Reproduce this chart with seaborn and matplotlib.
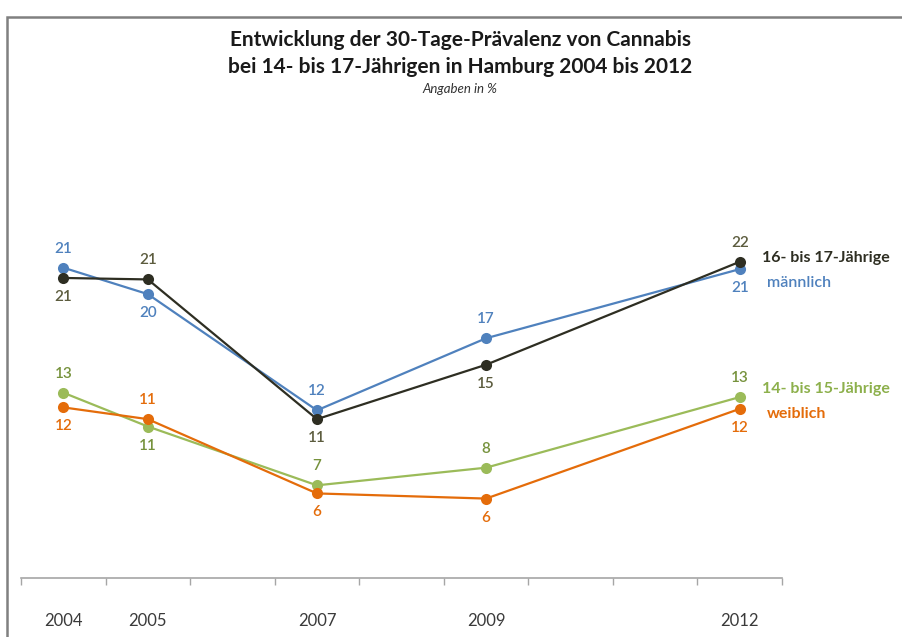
import matplotlib
matplotlib.use("Agg")
import matplotlib.pyplot as plt
from matplotlib.patches import Rectangle
import numpy as np
import pandas as pd
import seaborn as sns

# Survey years shown on the time axis
years = [2004, 2005, 2007, 2009, 2012]

# 30-day prevalence of cannabis use (%)
maennlich = [21.4, 19.6, 11.7, 16.6, 21.3]
age_16_17 = [20.7, 20.6, 11.1, 14.8, 21.8]
age_14_15 = [12.9, 10.6, 6.6, 7.8, 12.6]
weiblich = [11.9, 11.1, 6.05, 5.7, 11.8]

series_names = ["männlich", "16- bis 17-Jährige", "14- bis 15-Jährige", "weiblich"]
series_values = [maennlich, age_16_17, age_14_15, weiblich]
line_colors = ["#4F81BD", "#2E2E22", "#9BBB59", "#E46C0A"]
label_colors = ["#4F81BD", "#5C5C3E", "#76923C", "#E46C0A"]
# label placement per point: +1 above the marker, -1 below
label_side = [
    [1, -1, 1, 1, -1],
    [-1, 1, -1, -1, 1],
    [1, -1, 1, 1, 1],
    [-1, 1, -1, -1, -1],
]

df = pd.DataFrame(
    [(y, v, name) for name, vals in zip(series_names, series_values) for y, v in zip(years, vals)],
    columns=["Jahr", "Wert", "Gruppe"],
)

sns.set_theme(style="white")
plt.rcParams["font.family"] = ["Lato", "DejaVu Sans"]

W, H = 902, 637
fig = plt.figure(figsize=(W / 100, H / 100), dpi=100)
fig.patch.set_facecolor("white")

# frame around the chart area
fig.patches.append(Rectangle((7 / W, -0.05), 1.1, (H - 17) / H + 0.05,
                             transform=fig.transFigure, fill=False,
                             edgecolor="#808080", linewidth=1.8, zorder=0))

ax = fig.add_axes([21 / W, (H - 578) / H, (782 - 21) / W, (578 - 200) / H])
sns.lineplot(data=df, x="Jahr", y="Wert", hue="Gruppe", hue_order=series_names,
             palette=line_colors, marker="o", markersize=8, markeredgewidth=0,
             linewidth=1.6, legend=False, ax=ax)

ax.set_xlim(2003.5, 2012.5)
ax.set_ylim(0.3, 26)
ax.set_xlabel("")
ax.set_ylabel("")
ax.set_yticks([])
for s in ["left", "top", "right"]:
    ax.spines[s].set_visible(False)
ax.spines["bottom"].set_color("#A6A6A6")
ax.spines["bottom"].set_linewidth(1.2)

ax.set_xticks(years)
ax.set_xticklabels([str(y) for y in years])
ax.set_xticks(np.arange(2003.5, 2013, 1.0), minor=True)
ax.tick_params(axis="x", which="major", length=0, pad=25, labelsize=12,
               labelcolor="#3A3A3A")
ax.tick_params(axis="x", which="minor", length=5, width=1, color="#A6A6A6",
               direction="out", bottom=True)

for vals, col, sides in zip(series_values, label_colors, label_side):
    for x, v, s in zip(years, vals, sides):
        ax.annotate(f"{round(v)}", (x, v), xytext=(0, 19 * s),
                    textcoords="offset pixels", ha="center", va="center",
                    fontsize=11, fontweight="semibold", color=col)

# group labels at the right end of the lines
fig.text(762 / W, 1 - 258 / H, "16- bis 17-Jährige", fontsize=11.5,
         fontweight="bold", color="#2E2E22", va="center")
fig.text(767 / W, 1 - 283 / H, "männlich", fontsize=11.5,
         fontweight="semibold", color="#4F81BD", va="center")
fig.text(762 / W, 1 - 389 / H, "14- bis 15-Jährige", fontsize=11.5,
         fontweight="bold", color="#8DB04C", va="center")
fig.text(767 / W, 1 - 414 / H, "weiblich", fontsize=11.5,
         fontweight="bold", color="#E46C0A", va="center")

fig.text(460 / W, 1 - 40 / H, "Entwicklung der 30-Tage-Prävalenz von Cannabis",
         fontsize=15, fontweight="bold", color="#1A1A1A", ha="center", va="center")
fig.text(460 / W, 1 - 67 / H, "bei 14- bis 17-Jährigen in Hamburg 2004 bis 2012",
         fontsize=15, fontweight="bold", color="#1A1A1A", ha="center", va="center")
fig.text(460 / W, 1 - 89 / H, "Angaben in %", fontsize=9.5, fontstyle="italic",
         color="#333333", ha="center", va="center")

fig.savefig("out.png", dpi=100, facecolor="white")
